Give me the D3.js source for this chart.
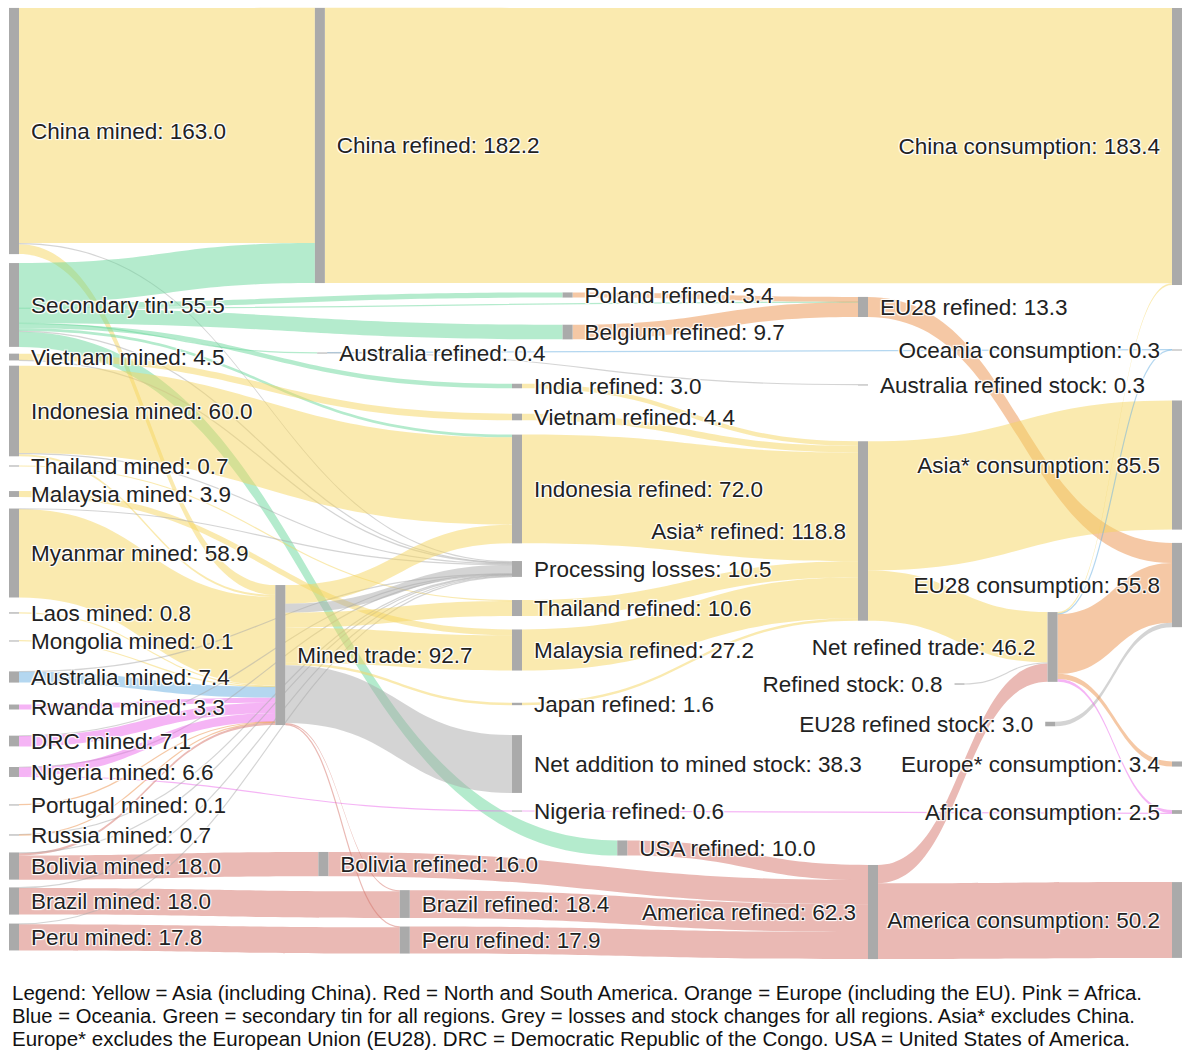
<!DOCTYPE html>
<html lang="en">
<head>
<meta charset="UTF-8" />
<title>Global tin flows</title>
<script src="https://d3js.org/d3.v7.min.js"></script>
<style>
  body { margin: 0; background: #fff; }
  .label {
    font-family: "Liberation Sans", Arial, sans-serif;
    font-size: 22.5px;
    fill: #222;
    text-shadow: 1px 1px 1px #fff, -1px -1px 1px #fff, 1px -1px 1px #fff, -1px 1px 1px #fff;
  }
  .legend { font-family: "Liberation Sans", Arial, sans-serif; font-size: 20px; fill: #111; }
</style>
</head>
<body>
<svg id="chart" width="1182" height="1051"></svg>
<script>
// ---- nodes (name + value) ----
var nodeNames = [
  "China mined", "Secondary tin", "Vietnam mined", "Indonesia mined", "Thailand mined",
  "Malaysia mined", "Myanmar mined", "Laos mined", "Mongolia mined", "Australia mined",
  "Rwanda mined", "DRC mined", "Nigeria mined", "Portugal mined", "Russia mined",
  "Bolivia mined", "Brazil mined", "Peru mined",
  "Mined trade", "China refined", "Australia refined", "Bolivia refined", "Brazil refined",
  "Peru refined", "Poland refined", "Belgium refined", "India refined", "Vietnam refined",
  "Indonesia refined", "Processing losses", "Thailand refined", "Malaysia refined",
  "Japan refined", "Net addition to mined stock", "Nigeria refined", "USA refined",
  "EU28 refined", "Asia* refined", "America refined", "Australia refined stock",
  "Net refined trade", "Refined stock", "EU28 refined stock",
  "China consumption", "Oceania consumption", "Asia* consumption", "EU28 consumption",
  "Europe* consumption", "Africa consumption", "America consumption"
];
var nodeValues = [
  163.0, 55.5, 4.5, 60.0, 0.7,
  3.9, 58.9, 0.8, 0.1, 7.4,
  3.3, 7.1, 6.6, 0.1, 0.7,
  18.0, 18.0, 17.8,
  92.7, 182.2, 0.4, 16.0, 18.4,
  17.9, 3.4, 9.7, 3.0, 4.4,
  72.0, 10.5, 10.6, 27.2,
  1.6, 38.3, 0.6, 10.0,
  13.3, 118.8, 62.3, 0.3,
  46.2, 0.8, 3.0,
  183.4, 0.3, 85.5, 55.8,
  3.4, 2.5, 50.2
];

// fixed node arrangement, fractions of the plot area (like plotly node.x / node.y)
var nodeX = [
  0, 0, 0, 0, 0, 0, 0, 0, 0, 0, 0, 0, 0, 0, 0, 0, 0, 0,
  0.229, 0.263, 0.265, 0.266, 0.336,
  0.336, 0.476, 0.476, 0.4325, 0.4325,
  0.4325, 0.4325, 0.4325, 0.4325,
  0.4325, 0.4325, 0.4325, 0.523,
  0.730, 0.730, 0.7386, 0.730,
  0.893, 0.813, 0.891,
  1, 1, 1, 1, 1, 1, 1
];
var nodeY = [
  0.1295, 0.3126, 0.3674, 0.4242, 0.4821,
  0.5116, 0.5737, 0.6368, 0.6663, 0.7042,
  0.7358, 0.7716, 0.8042, 0.8389, 0.8705,
  0.9032, 0.9400, 0.9779,
  0.6811, 0.1447, 0.3632, 0.9011, 0.9432,
  0.9811, 0.3021, 0.3411, 0.3979, 0.4305,
  0.5063, 0.5905, 0.6316, 0.6758,
  0.7326, 0.7958, 0.8453, 0.8842,
  0.3147, 0.5505, 0.9516, 0.3968,
  0.6726, 0.7116, 0.7537,
  0.1458, 0.3600, 0.4811, 0.6074,
  0.7958, 0.8463, 0.9600
];
// nodes whose label sits on the left of the bar
var leftLabelNodes = [
  "Asia* refined", "America refined", "Net refined trade", "Refined stock", "EU28 refined stock",
  "China consumption", "Oceania consumption", "Asia* consumption", "EU28 consumption",
  "Europe* consumption", "Africa consumption", "America consumption"
];

// ---- links ----
var linkSource = [
  "China mined", "China mined", "China mined",
  "Secondary tin", "Secondary tin", "Secondary tin", "Secondary tin", "Secondary tin",
  "Secondary tin", "Secondary tin", "Secondary tin", "Secondary tin",
  "Vietnam mined", "Vietnam mined",
  "Indonesia mined", "Indonesia mined", "Indonesia mined",
  "Thailand mined", "Malaysia mined",
  "Myanmar mined", "Myanmar mined", "Laos mined", "Mongolia mined",
  "Australia mined", "Australia mined",
  "Rwanda mined", "DRC mined", "DRC mined",
  "Nigeria mined", "Nigeria mined", "Nigeria mined",
  "Portugal mined", "Russia mined", "Russia mined",
  "Bolivia mined", "Bolivia mined", "Bolivia mined",
  "Brazil mined", "Brazil mined", "Peru mined", "Peru mined",
  "Mined trade", "Mined trade", "Mined trade", "Mined trade",
  "Mined trade", "Mined trade", "Mined trade", "Mined trade",
  "China refined", "Australia refined", "Australia refined",
  "Poland refined", "Belgium refined",
  "India refined", "Vietnam refined", "Indonesia refined", "Thailand refined",
  "Malaysia refined", "Japan refined", "Nigeria refined",
  "Bolivia refined", "Brazil refined", "Peru refined", "USA refined",
  "EU28 refined", "Asia* refined", "Asia* refined", "America refined", "America refined",
  "Refined stock", "EU28 refined stock",
  "Net refined trade", "Net refined trade", "Net refined trade", "Net refined trade", "Net refined trade"
];
var linkTarget = [
  "China refined", "Mined trade", "Processing losses",
  "China refined", "Poland refined", "EU28 refined", "Belgium refined", "Australia refined",
  "India refined", "Indonesia refined", "Processing losses", "USA refined",
  "Vietnam refined", "Processing losses",
  "Indonesia refined", "Processing losses", "Mined trade",
  "Thailand refined", "Malaysia refined",
  "Mined trade", "Processing losses", "Mined trade", "Mined trade",
  "Processing losses", "Mined trade",
  "Mined trade", "Processing losses", "Mined trade",
  "Processing losses", "Mined trade", "Nigeria refined",
  "Mined trade", "Processing losses", "Mined trade",
  "Bolivia refined", "Mined trade", "Processing losses",
  "Brazil refined", "Processing losses", "Peru refined", "Processing losses",
  "Indonesia refined", "Processing losses", "Thailand refined", "Malaysia refined",
  "Japan refined", "Net addition to mined stock", "Brazil refined", "Peru refined",
  "China consumption", "Oceania consumption", "Australia refined stock",
  "EU28 refined", "EU28 refined",
  "Asia* refined", "Asia* refined", "Asia* refined", "Asia* refined",
  "Asia* refined", "Asia* refined", "Africa consumption",
  "America refined", "America refined", "America refined", "America refined",
  "EU28 consumption", "Asia* consumption", "Net refined trade", "Net refined trade", "America consumption",
  "Net refined trade", "EU28 consumption",
  "China consumption", "Oceania consumption", "EU28 consumption", "Europe* consumption", "Africa consumption"
];
var linkValue = [
  155.7, 6.5, 0.8,
  26.5, 3.4, 0.2, 9.7, 0.4,
  3.0, 1.8, 0.5, 10.0,
  4.4, 0.1,
  57.8, 0.8, 1.4,
  0.7, 3.9,
  58.6, 0.3, 0.8, 0.1,
  0.2, 7.2,
  3.3, 0.2, 6.9,
  0.3, 5.7, 0.6,
  0.1, 0.1, 0.6,
  16.0, 1.5, 0.5,
  17.6, 0.4, 17.4, 0.4,
  12.4, 5.9, 9.9, 23.3,
  1.6, 38.3, 0.8, 0.5,
  182.2, 0.1, 0.3,
  3.4, 9.7,
  3.0, 4.4, 72.0, 10.6,
  27.2, 1.6, 0.6,
  16.0, 18.4, 17.9, 10.0,
  13.3, 85.5, 33.3, 12.1, 50.2,
  0.8, 3.0,
  1.2, 0.2, 39.5, 3.4, 1.9
];
var linkRegion = [
  "Asia", "Asia", "Losses",
  "Secondary", "Secondary", "Secondary", "Secondary", "Secondary",
  "Secondary", "Secondary", "Losses", "Secondary",
  "Asia", "Losses",
  "Asia", "Losses", "Asia",
  "Asia", "Asia",
  "Asia", "Losses", "Asia", "Asia",
  "Losses", "Oceania",
  "Africa", "Losses", "Africa",
  "Losses", "Africa", "Africa",
  "Europe", "Losses", "Europe",
  "America", "America", "Losses",
  "America", "Losses", "America", "Losses",
  "Asia", "Losses", "Asia", "Asia",
  "Asia", "Losses", "America", "America",
  "Asia", "Oceania", "Losses",
  "Europe", "Europe",
  "Asia", "Asia", "Asia", "Asia",
  "Asia", "Asia", "Africa",
  "America", "America", "America", "America",
  "Europe", "Asia", "Asia", "America", "America",
  "Losses", "Losses",
  "Asia", "Oceania", "Europe", "Europe", "Africa"
];

var legendLines = [
  "Legend: Yellow = Asia (including China). Red = North and South America. Orange = Europe (including the EU). Pink = Africa.",
  "Blue = Oceania. Green = secondary tin for all regions. Grey = losses and stock changes for all regions. Asia* excludes China.",
  "Europe* excludes the European Union (EU28). DRC = Democratic Republic of the Congo. USA = United States of America."
];

// ---- scales ----
var nodeWidth = 10;
var x = d3.scaleLinear().domain([0, 1]).range([9, 1172]);
var y = d3.scaleLinear().domain([0, 1]).range([8, 958]);
var thickness = d3.scaleLinear().domain([0, 183.4]).range([0, 277]);
var colour = d3.scaleOrdinal()
  .domain(["Asia", "America", "Europe", "Africa", "Oceania", "Secondary", "Losses"])
  .range(["rgba(245,213,95,0.5)", "rgba(213,115,105,0.5)", "rgba(235,145,75,0.5)",
          "rgba(235,105,235,0.5)", "rgba(105,175,225,0.5)", "rgba(105,215,155,0.5)",
          "rgba(170,170,170,0.5)"]);

var svg = d3.select("#chart");

// build nodes
var nodes = nodeNames.map(function(name, i) {
  var h = Math.max(thickness(nodeValues[i]), 1);
  var cy = y(nodeY[i]);
  return { name: name, value: nodeValues[i], x0: x(nodeX[i]), x1: x(nodeX[i]) + nodeWidth,
           cy: cy, y0: cy - h / 2, y1: cy + h / 2, outs: [], ins: [] };
});
var byName = {};
nodes.forEach(function(n) { byName[n.name] = n; });

var links = linkValue.map(function(v, i) {
  var l = { source: byName[linkSource[i]], target: byName[linkTarget[i]], value: v,
            region: linkRegion[i], width: thickness(v) };
  l.source.outs.push(l);
  l.target.ins.push(l);
  return l;
});

// stack links inside each node, ordered by the position of the other end
nodes.forEach(function(n) {
  var off = n.y0;
  n.outs.sort(function(a, b) { return a.target.cy - b.target.cy; })
    .forEach(function(l) { l.y0 = off; off += l.width; });
  off = n.y0;
  n.ins.sort(function(a, b) { return a.source.cy - b.source.cy; })
    .forEach(function(l) { l.y1 = off; off += l.width; });
});

function bandPath(l) {
  var x0 = l.source.x1, x1 = l.target.x0, xm = (x0 + x1) / 2, w = l.width;
  var p = d3.path();
  p.moveTo(x0, l.y0);
  p.bezierCurveTo(xm, l.y0, xm, l.y1, x1, l.y1);
  p.lineTo(x1, l.y1 + w);
  p.bezierCurveTo(xm, l.y1 + w, xm, l.y0 + w, x0, l.y0 + w);
  p.closePath();
  return p.toString();
}
function linePath(l) {
  var x0 = l.source.x1, x1 = l.target.x0, xm = (x0 + x1) / 2;
  var a = l.y0 + l.width / 2, b = l.y1 + l.width / 2;
  var p = d3.path();
  p.moveTo(x0, a);
  p.bezierCurveTo(xm, a, xm, b, x1, b);
  return p.toString();
}

// links: bands, thin ones as hairlines
svg.append("g").selectAll("path")
  .data(links)
  .enter().append("path")
  .attr("d", function(d) { return d.width >= 1.2 ? bandPath(d) : linePath(d); })
  .attr("fill", function(d) { return d.width >= 1.2 ? colour(d.region) : "none"; })
  .attr("stroke", function(d) { return d.width >= 1.2 ? "none" : colour(d.region); })
  .attr("stroke-width", 1.2);

// nodes
svg.append("g").selectAll("rect")
  .data(nodes)
  .enter().append("rect")
  .attr("x", function(d) { return d.x0; })
  .attr("y", function(d) { return d.y0; })
  .attr("width", nodeWidth)
  .attr("height", function(d) { return d.y1 - d.y0; })
  .attr("fill", "#aaaaaa");

// labels
svg.append("g").selectAll("text")
  .data(nodes)
  .enter().append("text")
  .attr("class", "label")
  .attr("x", function(d) { return leftLabelNodes.indexOf(d.name) >= 0 ? d.x0 - 12 : d.x1 + 12; })
  .attr("y", function(d) { return d.cy; })
  .attr("dy", "0.35em")
  .attr("text-anchor", function(d) { return leftLabelNodes.indexOf(d.name) >= 0 ? "end" : "start"; })
  .text(function(d) { return d.name + ": " + d.value.toFixed(1); });

// legend note
var legendWidths = [1130, 1123, 1118];
svg.append("g").selectAll("text")
  .data(legendLines)
  .enter().append("text")
  .attr("class", "legend")
  .attr("x", 12)
  .attr("y", function(d, i) { return 1000 + i * 23; })
  .attr("textLength", function(d, i) { return legendWidths[i]; })
  .attr("lengthAdjust", "spacingAndGlyphs")
  .text(function(d) { return d; });
</script>
</body>
</html>
